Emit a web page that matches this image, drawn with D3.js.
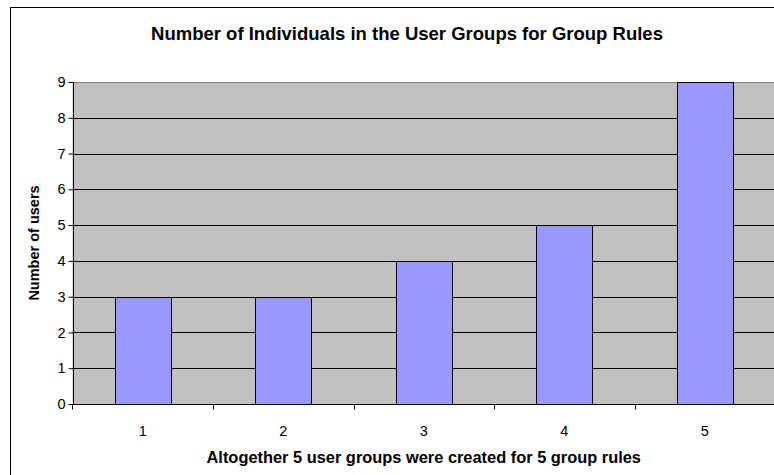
<!DOCTYPE html>
<html>
<head>
<meta charset="utf-8">
<script src="https://cdn.jsdelivr.net/npm/d3@7"></script>
<style>
  html, body { margin: 0; padding: 0; background: #fff; }
  svg { display: block; font-family: Arial, "Liberation Sans", sans-serif; }
</style>
</head>
<body>
<svg id="chart" width="774" height="475"></svg>
<script>
// User groups (one per group rule) and how many individuals each holds
const groups = ["1", "2", "3", "4", "5"];
const users = [3, 3, 4, 5, 9];
const yTicks = [0, 1, 2, 3, 4, 5, 6, 7, 8, 9];

const chartTitle = "Number of Individuals in the User Groups for Group Rules";
const xTitle = "Altogether 5 user groups were created for 5 group rules";
const yTitle = "Number of users";

const svg = d3.select("#chart");
const plot = { left: 72.5, right: 775, top: 82, bottom: 404 };
const tickFont = 14.5;

// outer chart frame
svg.append("rect")
  .attr("x", 10.5).attr("y", 7.5)
  .attr("width", 900).attr("height", 600)
  .attr("fill", "#fff").attr("stroke", "#000").attr("stroke-width", 1);

const x = d3.scaleBand()
  .domain(groups)
  .range([plot.left, plot.right])
  .paddingInner(0.6)
  .paddingOuter(0.3);

const y = d3.scaleLinear()
  .domain([0, 9])
  .range([plot.bottom, plot.top]);

const crisp = v => Math.round(v) + 0.5;

// plot background
svg.append("rect")
  .attr("x", plot.left).attr("y", y(9))
  .attr("width", plot.right - plot.left).attr("height", y(0) - y(9))
  .attr("fill", "#c0c0c0");

// horizontal gridlines
svg.append("g").selectAll("line")
  .data(yTicks.filter(d => d > 0))
  .join("line")
  .attr("x1", plot.left).attr("x2", plot.right)
  .attr("y1", d => crisp(y(d))).attr("y2", d => crisp(y(d)))
  .attr("stroke", d => d === 9 ? "#808080" : "#000")
  .attr("stroke-width", 1);

// bars
svg.append("g").selectAll("rect")
  .data(users)
  .join("rect")
  .attr("x", (d, i) => crisp(x(groups[i])))
  .attr("y", d => crisp(y(d)))
  .attr("width", Math.round(x.bandwidth()))
  .attr("height", d => Math.round(y(0)) - Math.round(y(d)))
  .attr("fill", "#9999ff")
  .attr("stroke", "#000")
  .attr("stroke-width", 1);

// y axis
const yAxis = svg.append("g")
  .attr("transform", `translate(${crisp(plot.left)},0)`)
  .attr("font-size", tickFont)
  .attr("font-family", "Arial, 'Liberation Sans', sans-serif")
  .call(d3.axisLeft(y).tickValues(yTicks).tickSize(5).tickPadding(3).tickFormat(d3.format("d")));
yAxis.attr("font-size", tickFont).attr("font-family", "Arial, 'Liberation Sans', sans-serif");
yAxis.select(".domain").attr("stroke", "#000").attr("d", `M0,${y(9)}V${crisp(y(0))}`);
yAxis.selectAll(".tick line").attr("stroke", "#000");
yAxis.selectAll(".tick text").attr("fill", "#000").style("font-size", tickFont + "px");

// x axis line and category boundary ticks
const step = x.step();
const bounds = d3.range(groups.length + 1).map(i => x(groups[0]) - step * x.paddingOuter() + i * step);
svg.append("line")
  .attr("x1", plot.left).attr("x2", plot.right)
  .attr("y1", crisp(y(0))).attr("y2", crisp(y(0)))
  .attr("stroke", "#000");
svg.append("g").selectAll("line")
  .data(bounds)
  .join("line")
  .attr("x1", d => crisp(d)).attr("x2", d => crisp(d))
  .attr("y1", crisp(y(0))).attr("y2", crisp(y(0)) + 5)
  .attr("stroke", "#000");

// x category labels
svg.append("g").selectAll("text")
  .data(groups)
  .join("text")
  .attr("x", d => x(d) + x.bandwidth() / 2)
  .attr("y", 436)
  .attr("text-anchor", "middle")
  .style("font-size", tickFont + "px")
  .text(d => d);

// titles
svg.append("text")
  .attr("x", 407).attr("y", 40)
  .attr("text-anchor", "middle")
  .attr("font-size", 18.5).attr("font-weight", "bold")
  .text(chartTitle);

svg.append("text")
  .attr("x", (plot.left + plot.right) / 2).attr("y", 463)
  .attr("text-anchor", "middle")
  .attr("font-size", 16.4).attr("font-weight", "bold")
  .text(xTitle);

svg.append("text")
  .attr("transform", `translate(39,${(y(0) + y(9)) / 2}) rotate(-90)`)
  .attr("text-anchor", "middle")
  .attr("font-size", 14.5).attr("font-weight", "bold")
  .text(yTitle);
</script>
</body>
</html>
